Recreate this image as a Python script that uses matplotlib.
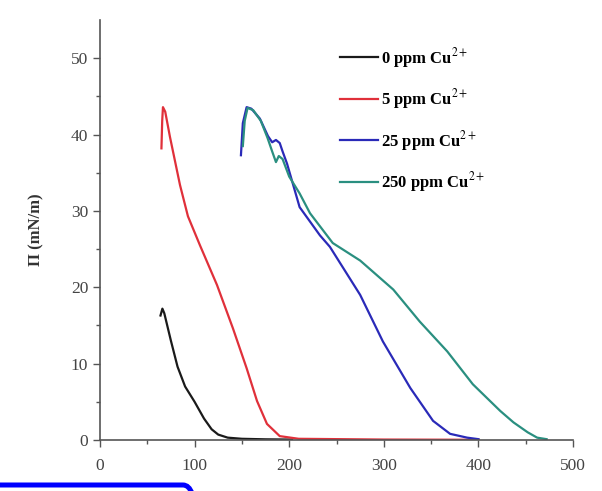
import numpy as np
import matplotlib.pyplot as plt
from matplotlib.patches import FancyBboxPatch

# Pi-A isotherms, values
area_0 = [64, 66, 68, 75, 82, 90, 100, 110, 118, 125, 135, 150, 175, 203]
pi_0 = [16.3, 17.2, 16.6, 13.0, 9.6, 7.0, 5.0, 2.8, 1.4, 0.7, 0.3, 0.15, 0.08, 0.05]

area_5 = [65, 65.8, 66.6, 69, 74, 84.6, 93, 105.7, 123.7, 140.6, 155, 166, 176.5, 190, 210, 300, 400]
pi_5 = [38.2, 41.8, 43.6, 43.0, 39.7, 33.4, 29.3, 25.5, 20.3, 14.6, 9.4, 5.1, 2.1, 0.5, 0.15, 0.05, 0.02]

area_25 = [149, 151, 155, 160, 169, 177.6, 182, 186, 190, 193, 197.7, 211, 232.5, 243, 275, 299, 328,
           352, 370, 388, 400]
pi_25 = [37.3, 41.5, 43.6, 43.4, 42.1, 39.8, 39.0, 39.3, 38.9, 37.8, 36.2, 30.5, 26.8, 25.3, 19.0,
         12.9, 6.8, 2.5, 0.8, 0.3, 0.1]

area_250 = [151, 153, 156, 162, 170, 177, 182, 186, 189, 193, 200, 211, 222, 246, 275, 310, 338,
            367, 394, 423, 437, 452, 462, 472]
pi_250 = [38.5, 41.8, 43.5, 43.2, 41.8, 39.6, 37.8, 36.4, 37.2, 36.8, 34.5, 32.3, 29.7, 25.8, 23.5,
          19.7, 15.5, 11.6, 7.3, 3.8, 2.3, 1.0, 0.3, 0.1]

labels = ['0 ppm Cu$^{2+}$', '5 ppm Cu$^{2+}$', '25 ppm Cu$^{2+}$', '250 ppm Cu$^{2+}$']
colors = ['#1a1a1a', '#e0303a', '#2a2ab8', '#2a8f80']

plt.rcParams['font.family'] = ['Liberation Serif', 'DejaVu Serif']
plt.rcParams['mathtext.fontset'] = 'stix'

fig = plt.figure(figsize=(6.02, 4.91), dpi=100)
ax = fig.add_axes([0.166, 0.104, 0.786, 0.855])

for x, y, c, lab in zip([area_0, area_5, area_25, area_250], [pi_0, pi_5, pi_25, pi_250], colors, labels):
    ax.plot(x, y, color=c, lw=1.6, label=lab)

ax.set_xlim(0, 500)
ax.set_ylim(0, 55)
ax.set_xticks(np.arange(0, 501, 100))
ax.set_xticks(np.arange(50, 500, 100), minor=True)
ax.set_yticks(np.arange(0, 51, 10))
ax.set_yticks(np.arange(5, 55, 10), minor=True)

ax.spines['top'].set_visible(False)
ax.spines['right'].set_visible(False)
for s in ['left', 'bottom']:
    ax.spines[s].set_color('#555555')
    ax.spines[s].set_linewidth(1.2)
ax.tick_params(which='major', direction='out', length=5, width=1, color='#555555',
               labelsize=12.5, labelcolor='#444444')
ax.tick_params(which='minor', direction='out', length=3, width=1, color='#555555')
ax.tick_params(axis='x', which='major', pad=8)

ax.set_ylabel('Π (mN/m)', fontsize=12, fontweight='bold', color='#333333', labelpad=19)

leg = ax.legend(loc='upper left', bbox_to_anchor=(0.475, 0.975), frameon=False,
                prop={'weight': 'bold', 'size': 12}, handlelength=2.3, handletextpad=0.2,
                labelspacing=1.05)

# blue rounded box at bottom left (pixel coordinates)
box = FancyBboxPatch((-30, -40), 225, 46, boxstyle='round,pad=0,rounding_size=12',
                     transform=None, fill=False, edgecolor='#0000ff', lw=3.6, clip_on=False)
fig.patches.append(box)

fig.savefig('out.png', dpi=100)
